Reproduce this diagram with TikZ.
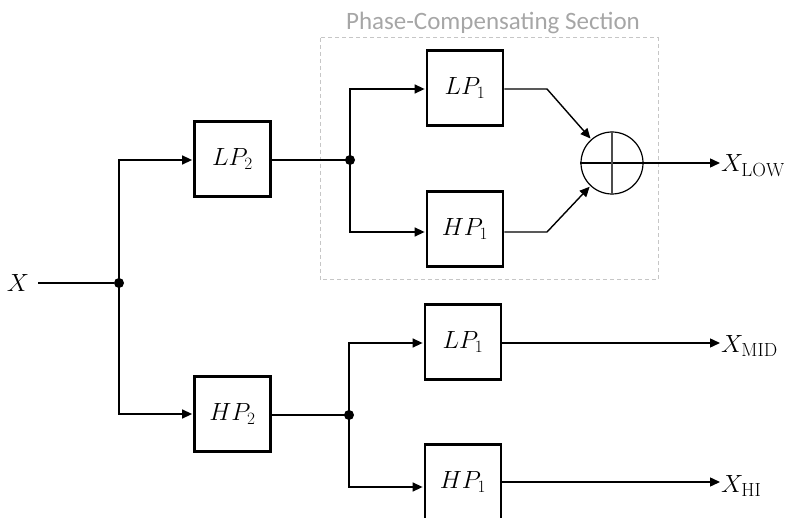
\documentclass[tikz,border=0pt]{standalone}
\usepackage{fontspec}
\newfontfamily\titlefont{Carlito}
\DeclareMathSizes{24}{24}{19}{15}
\usetikzlibrary{arrows.meta}
\begin{document}
\begin{tikzpicture}[x=1pt,y=-1pt,
  blk/.style={draw=black,line width=2.8pt,minimum width=76pt,minimum height=75pt,inner sep=0pt,font=\fontsize{24}{28}\selectfont},
  lab/.style={inner sep=0pt,font=\fontsize{24}{28}\selectfont},
  wire/.style={line width=1.4pt},
  arr/.style={wire,-{Triangle[length=10pt,width=9pt]},shorten >=1pt},
  dot/.style={circle,fill=black,inner sep=0pt,minimum size=10pt},
  sumnode/.style={circle,draw=black,line width=1.2pt,minimum size=62pt,inner sep=0pt}
]
\useasboundingbox (0,0) rectangle (786,518);
% dashed section
\draw[gray!45,line width=1pt,dash pattern=on 4pt off 3pt] (320,38) rectangle (658,280);
\node[text=gray!70,font=\titlefont\fontsize{25}{28}\selectfont,anchor=base] (title) at (493,30) {Phase-Compensating Section};

% nodes
\node[lab] (x) at (18,283) {$X$};
\coordinate (xs) at (38,283);
\node[dot] (j1) at (119,283) {};
\node[blk] (lp2) at (232.5,159) {$LP_2$};
\node[blk] (hp2) at (232.5,414) {$HP_2$};
\node[dot] (j2) at (350,160) {};
\node[dot] (j3) at (349,415) {};
\node[blk] (lp1a) at (465,88) {$LP_1$};
\node[blk] (hp1a) at (465,229) {$HP_1$};
\node[sumnode] (sum) at (612,163) {};
\node[blk] (lp1b) at (463,342) {$LP_1$};
\node[blk] (hp1b) at (463,482) {$HP_1$};
\node[lab,anchor=west] (xlow) at (721,166) {$X_{\mathrm{LOW}}$};
\node[lab,anchor=west] (xmid) at (721,346) {$X_{\mathrm{MID}}$};
\node[lab,anchor=west] (xhi) at (721,486) {$X_{\mathrm{HI}}$};

% summing cross
\draw[line width=1.2pt] (sum.west) -- (sum.east);
\draw[line width=1.8pt,black!70] (sum.north) -- (sum.south);

% wires
\draw[wire] (xs) -- (j1);
\draw[arr] (j1.center) |- (lp2.west|-0,160);
\draw[arr] (j1.center) |- (hp2.west|-0,414);
\draw[wire] (lp2.east|-0,160) -- (j2.center);
\draw[wire] (hp2.east|-0,415) -- (j3.center);
\draw[arr] (j2.center) |- (lp1a.west|-0,89);
\draw[arr] (j2.center) |- (hp1a.west|-0,232);
\draw[arr] (lp1a.east|-0,89) -- (547,89) -- (sum);
\draw[arr] (hp1a.east|-0,232) -- (547,232) -- (sum);
\draw[arr] (sum.east) -- (xlow.west|-0,163);
\draw[arr] (j3.center) |- (lp1b.west|-0,343);
\draw[arr] (j3.center) |- (hp1b.west|-0,487);
\draw[arr] (lp1b.east|-0,343) -- (xmid.west|-0,343);
\draw[arr] (hp1b.east|-0,482) -- (xhi.west|-0,482);
\end{tikzpicture}
\end{document}
